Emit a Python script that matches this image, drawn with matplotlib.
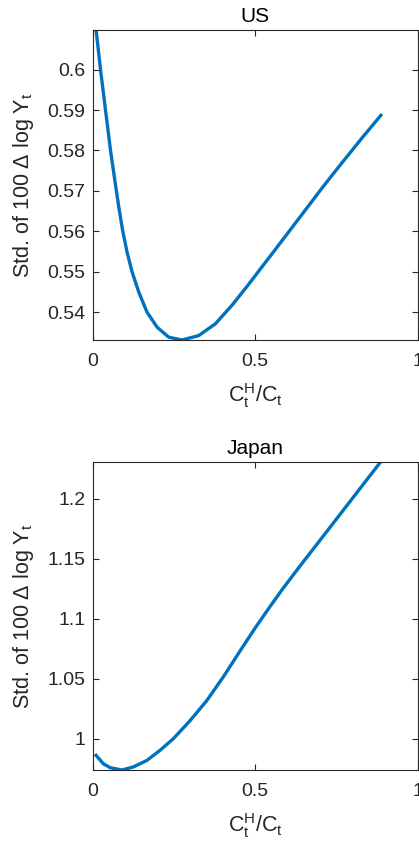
import matplotlib
matplotlib.use('Agg')
import matplotlib.pyplot as plt

# curve values (share of home goods vs std of output growth)
us_share = [0.011, 0.0246, 0.0399, 0.0553, 0.0682, 0.0805, 0.0928, 0.106, 0.1214, 0.1419,
            0.1674, 0.1982, 0.2341, 0.275, 0.3263, 0.3773, 0.4286, 0.4799, 0.5207, 0.555,
            0.607, 0.658, 0.709, 0.760, 0.827, 0.886]
us_std = [0.6098, 0.6000, 0.5900, 0.5800, 0.5728, 0.5661, 0.5601, 0.5549, 0.5500, 0.5450,
          0.5400, 0.5363, 0.5338, 0.5331, 0.5342, 0.5371, 0.5417, 0.5469, 0.5512, 0.5548,
          0.5603, 0.5657, 0.5711, 0.5763, 0.5830, 0.5887]

jp_share = [0.011, 0.033, 0.054, 0.090, 0.125, 0.167, 0.207, 0.248, 0.300, 0.351,
            0.402, 0.453, 0.499, 0.545, 0.586, 0.637, 0.704, 0.760, 0.821, 0.885]
jp_std = [0.9862, 0.9793, 0.9760, 0.9740, 0.9765, 0.9820, 0.9903, 1.0000, 1.0152, 1.0318,
          1.0516, 1.0730, 1.0920, 1.1100, 1.1255, 1.1437, 1.1671, 1.1867, 1.2081, 1.2305]

us_yticks = [0.54, 0.55, 0.56, 0.57, 0.58, 0.59, 0.6]
us_ylabels = ['0.54', '0.55', '0.56', '0.57', '0.58', '0.59', '0.6']
jp_yticks = [1.0, 1.05, 1.1, 1.15, 1.2]
jp_ylabels = ['1', '1.05', '1.1', '1.15', '1.2']
xticks = [0, 0.5, 1]
xlabels = ['0', '0.5', '1']

plt.rcParams['font.family'] = ['Liberation Sans', 'DejaVu Sans']
plt.rcParams['mathtext.fontset'] = 'custom'
plt.rcParams['mathtext.rm'] = 'Liberation Sans'
plt.rcParams['mathtext.it'] = 'Liberation Sans'

fig = plt.figure(figsize=(4.19, 8.46), dpi=100)

blue = '#0072BD'
dark = '#262626'

panels = [
    ('US', us_share, us_std, us_yticks, us_ylabels, (0.5331, 0.6098), [0.2208, 0.5981, 0.7768, 0.3664]),
    ('Japan', jp_share, jp_std, jp_yticks, jp_ylabels, (0.9740, 1.2305), [0.2208, 0.0898, 0.7768, 0.3641]),
]

for title, xs, ys, yt, yl, ylim, pos in panels:
    ax = fig.add_axes(pos)
    ax.plot(xs, ys, color=blue, linewidth=2.4, solid_joinstyle='round')
    ax.set_xlim(0, 1)
    ax.set_ylim(*ylim)
    ax.set_xticks(xticks)
    ax.set_xticklabels(xlabels)
    ax.set_yticks(yt)
    ax.set_yticklabels(yl)
    ax.tick_params(direction='in', length=4, width=0.8, colors=dark,
                   labelsize=14, top=True, right=True)
    ax.tick_params(axis='x', pad=9)
    ax.tick_params(axis='y', pad=5)
    for s in ax.spines.values():
        s.set_color(dark)
        s.set_linewidth(0.8)
    ax.set_title(title, fontsize=15, color='black', pad=6)
    ax.set_xlabel(r'$\mathrm{C_t^H/C_t}$', fontsize=15.5, color=dark, labelpad=8)
    ax.set_ylabel('Std. of 100 \u0394 log ' + r'$\mathrm{Y_t}$', fontsize=15.5, color=dark, labelpad=8)

fig.savefig('out.png', dpi=100)
